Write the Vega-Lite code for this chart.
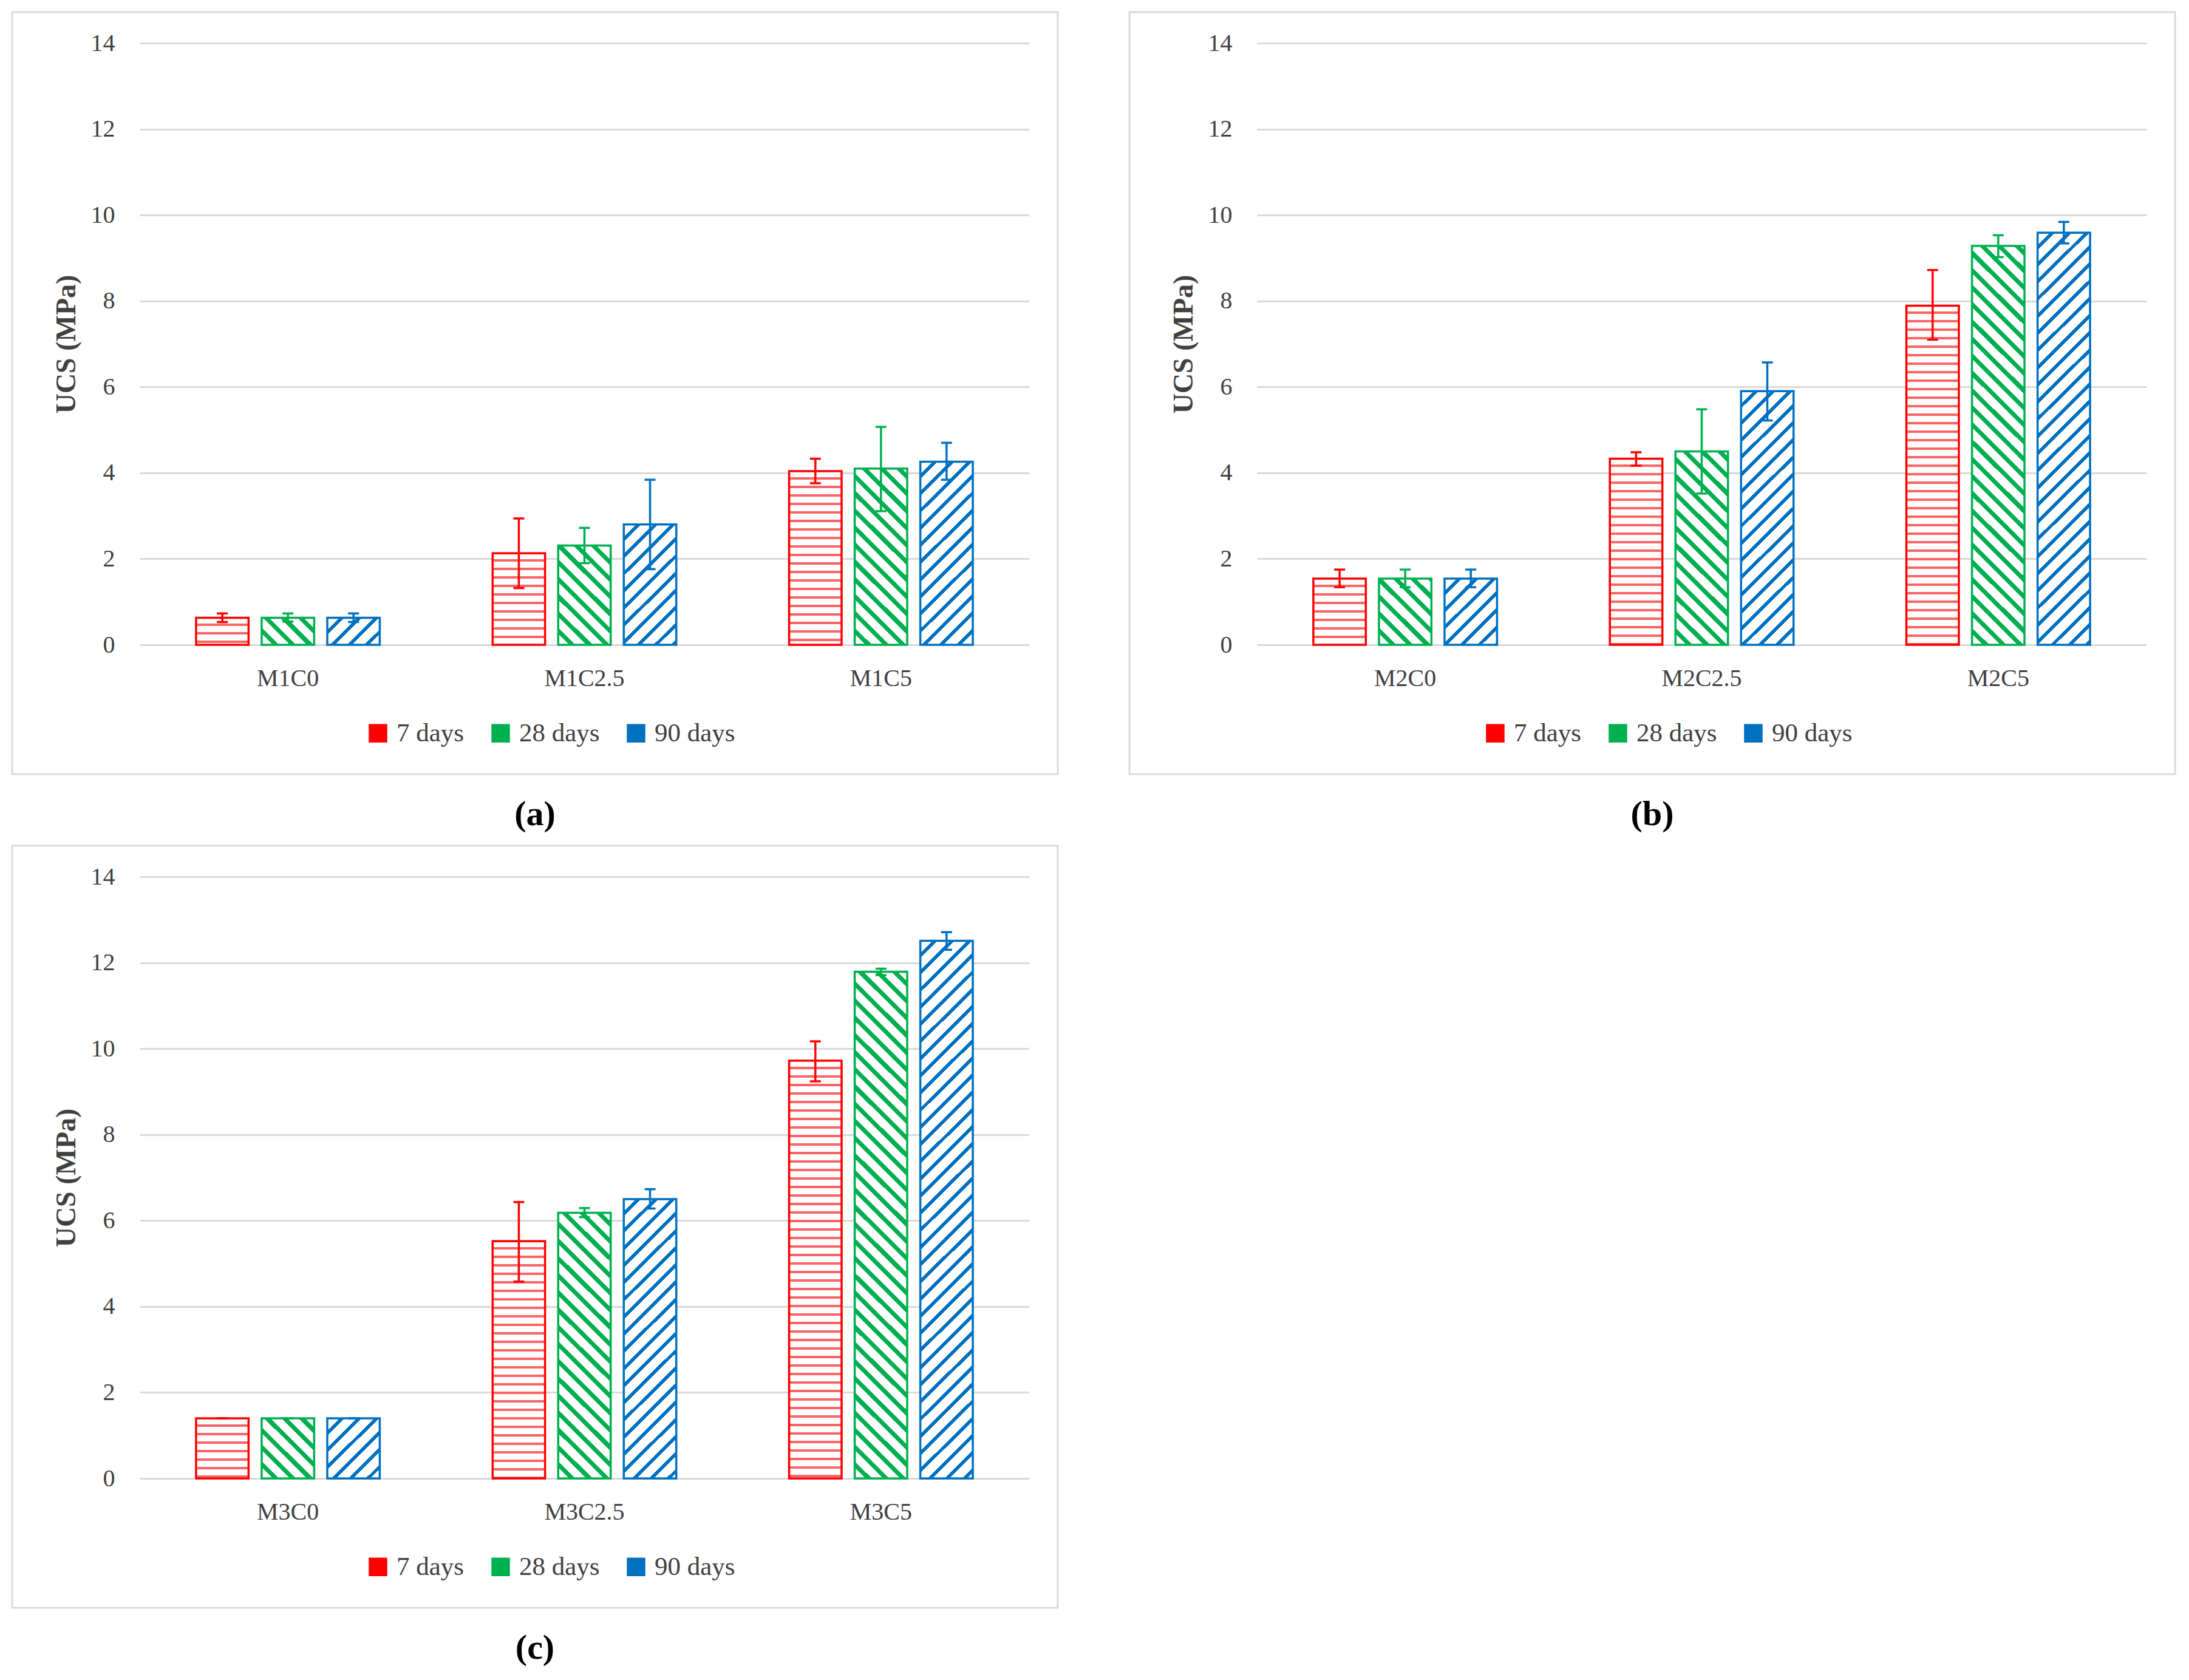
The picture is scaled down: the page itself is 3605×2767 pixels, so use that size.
{
  "$schema": "https://vega.github.io/schema/vega-lite/v6.json",
  "background": "white",
  "padding": {"left": 18, "top": 18, "right": 5, "bottom": 5},
  "params": [
    {"name": "redStops", "value": [
      {"offset":0,"color":"#fff"},{"offset":0.014,"color":"#fff"},{"offset":0.014,"color":"#ff6464"},{"offset":0.02,"color":"#ff6464"},
      {"offset":0.02,"color":"#fff"},{"offset":0.034,"color":"#fff"},{"offset":0.034,"color":"#ff6464"},{"offset":0.04,"color":"#ff6464"},
      {"offset":0.04,"color":"#fff"},{"offset":0.054,"color":"#fff"},{"offset":0.054,"color":"#ff6464"},{"offset":0.06,"color":"#ff6464"},
      {"offset":0.06,"color":"#fff"},{"offset":0.074,"color":"#fff"},{"offset":0.074,"color":"#ff6464"},{"offset":0.08,"color":"#ff6464"},
      {"offset":0.08,"color":"#fff"},{"offset":0.094,"color":"#fff"},{"offset":0.094,"color":"#ff6464"},{"offset":0.1,"color":"#ff6464"},
      {"offset":0.1,"color":"#fff"},{"offset":0.114,"color":"#fff"},{"offset":0.114,"color":"#ff6464"},{"offset":0.12,"color":"#ff6464"},
      {"offset":0.12,"color":"#fff"},{"offset":0.134,"color":"#fff"},{"offset":0.134,"color":"#ff6464"},{"offset":0.14,"color":"#ff6464"},
      {"offset":0.14,"color":"#fff"},{"offset":0.154,"color":"#fff"},{"offset":0.154,"color":"#ff6464"},{"offset":0.16,"color":"#ff6464"},
      {"offset":0.16,"color":"#fff"},{"offset":0.174,"color":"#fff"},{"offset":0.174,"color":"#ff6464"},{"offset":0.18,"color":"#ff6464"},
      {"offset":0.18,"color":"#fff"},{"offset":0.194,"color":"#fff"},{"offset":0.194,"color":"#ff6464"},{"offset":0.2,"color":"#ff6464"},
      {"offset":0.2,"color":"#fff"},{"offset":0.214,"color":"#fff"},{"offset":0.214,"color":"#ff6464"},{"offset":0.22,"color":"#ff6464"},
      {"offset":0.22,"color":"#fff"},{"offset":0.234,"color":"#fff"},{"offset":0.234,"color":"#ff6464"},{"offset":0.24,"color":"#ff6464"},
      {"offset":0.24,"color":"#fff"},{"offset":0.254,"color":"#fff"},{"offset":0.254,"color":"#ff6464"},{"offset":0.26,"color":"#ff6464"},
      {"offset":0.26,"color":"#fff"},{"offset":0.274,"color":"#fff"},{"offset":0.274,"color":"#ff6464"},{"offset":0.28,"color":"#ff6464"},
      {"offset":0.28,"color":"#fff"},{"offset":0.294,"color":"#fff"},{"offset":0.294,"color":"#ff6464"},{"offset":0.3,"color":"#ff6464"},
      {"offset":0.3,"color":"#fff"},{"offset":0.314,"color":"#fff"},{"offset":0.314,"color":"#ff6464"},{"offset":0.32,"color":"#ff6464"},
      {"offset":0.32,"color":"#fff"},{"offset":0.334,"color":"#fff"},{"offset":0.334,"color":"#ff6464"},{"offset":0.34,"color":"#ff6464"},
      {"offset":0.34,"color":"#fff"},{"offset":0.354,"color":"#fff"},{"offset":0.354,"color":"#ff6464"},{"offset":0.36,"color":"#ff6464"},
      {"offset":0.36,"color":"#fff"},{"offset":0.374,"color":"#fff"},{"offset":0.374,"color":"#ff6464"},{"offset":0.38,"color":"#ff6464"},
      {"offset":0.38,"color":"#fff"},{"offset":0.394,"color":"#fff"},{"offset":0.394,"color":"#ff6464"},{"offset":0.4,"color":"#ff6464"},
      {"offset":0.4,"color":"#fff"},{"offset":0.414,"color":"#fff"},{"offset":0.414,"color":"#ff6464"},{"offset":0.42,"color":"#ff6464"},
      {"offset":0.42,"color":"#fff"},{"offset":0.434,"color":"#fff"},{"offset":0.434,"color":"#ff6464"},{"offset":0.44,"color":"#ff6464"},
      {"offset":0.44,"color":"#fff"},{"offset":0.454,"color":"#fff"},{"offset":0.454,"color":"#ff6464"},{"offset":0.46,"color":"#ff6464"},
      {"offset":0.46,"color":"#fff"},{"offset":0.474,"color":"#fff"},{"offset":0.474,"color":"#ff6464"},{"offset":0.48,"color":"#ff6464"},
      {"offset":0.48,"color":"#fff"},{"offset":0.494,"color":"#fff"},{"offset":0.494,"color":"#ff6464"},{"offset":0.5,"color":"#ff6464"},
      {"offset":0.5,"color":"#fff"},{"offset":0.514,"color":"#fff"},{"offset":0.514,"color":"#ff6464"},{"offset":0.52,"color":"#ff6464"},
      {"offset":0.52,"color":"#fff"},{"offset":0.534,"color":"#fff"},{"offset":0.534,"color":"#ff6464"},{"offset":0.54,"color":"#ff6464"},
      {"offset":0.54,"color":"#fff"},{"offset":0.554,"color":"#fff"},{"offset":0.554,"color":"#ff6464"},{"offset":0.56,"color":"#ff6464"},
      {"offset":0.56,"color":"#fff"},{"offset":0.574,"color":"#fff"},{"offset":0.574,"color":"#ff6464"},{"offset":0.58,"color":"#ff6464"},
      {"offset":0.58,"color":"#fff"},{"offset":0.594,"color":"#fff"},{"offset":0.594,"color":"#ff6464"},{"offset":0.6,"color":"#ff6464"},
      {"offset":0.6,"color":"#fff"},{"offset":0.614,"color":"#fff"},{"offset":0.614,"color":"#ff6464"},{"offset":0.62,"color":"#ff6464"},
      {"offset":0.62,"color":"#fff"},{"offset":0.634,"color":"#fff"},{"offset":0.634,"color":"#ff6464"},{"offset":0.64,"color":"#ff6464"},
      {"offset":0.64,"color":"#fff"},{"offset":0.654,"color":"#fff"},{"offset":0.654,"color":"#ff6464"},{"offset":0.66,"color":"#ff6464"},
      {"offset":0.66,"color":"#fff"},{"offset":0.674,"color":"#fff"},{"offset":0.674,"color":"#ff6464"},{"offset":0.68,"color":"#ff6464"},
      {"offset":0.68,"color":"#fff"},{"offset":0.694,"color":"#fff"},{"offset":0.694,"color":"#ff6464"},{"offset":0.7,"color":"#ff6464"},
      {"offset":0.7,"color":"#fff"},{"offset":0.714,"color":"#fff"},{"offset":0.714,"color":"#ff6464"},{"offset":0.72,"color":"#ff6464"},
      {"offset":0.72,"color":"#fff"},{"offset":0.734,"color":"#fff"},{"offset":0.734,"color":"#ff6464"},{"offset":0.74,"color":"#ff6464"},
      {"offset":0.74,"color":"#fff"},{"offset":0.754,"color":"#fff"},{"offset":0.754,"color":"#ff6464"},{"offset":0.76,"color":"#ff6464"},
      {"offset":0.76,"color":"#fff"},{"offset":0.774,"color":"#fff"},{"offset":0.774,"color":"#ff6464"},{"offset":0.78,"color":"#ff6464"},
      {"offset":0.78,"color":"#fff"},{"offset":0.794,"color":"#fff"},{"offset":0.794,"color":"#ff6464"},{"offset":0.8,"color":"#ff6464"},
      {"offset":0.8,"color":"#fff"},{"offset":0.814,"color":"#fff"},{"offset":0.814,"color":"#ff6464"},{"offset":0.82,"color":"#ff6464"},
      {"offset":0.82,"color":"#fff"},{"offset":0.834,"color":"#fff"},{"offset":0.834,"color":"#ff6464"},{"offset":0.84,"color":"#ff6464"},
      {"offset":0.84,"color":"#fff"},{"offset":0.854,"color":"#fff"},{"offset":0.854,"color":"#ff6464"},{"offset":0.86,"color":"#ff6464"},
      {"offset":0.86,"color":"#fff"},{"offset":0.874,"color":"#fff"},{"offset":0.874,"color":"#ff6464"},{"offset":0.88,"color":"#ff6464"},
      {"offset":0.88,"color":"#fff"},{"offset":0.894,"color":"#fff"},{"offset":0.894,"color":"#ff6464"},{"offset":0.9,"color":"#ff6464"},
      {"offset":0.9,"color":"#fff"},{"offset":0.914,"color":"#fff"},{"offset":0.914,"color":"#ff6464"},{"offset":0.92,"color":"#ff6464"},
      {"offset":0.92,"color":"#fff"},{"offset":0.934,"color":"#fff"},{"offset":0.934,"color":"#ff6464"},{"offset":0.94,"color":"#ff6464"},
      {"offset":0.94,"color":"#fff"},{"offset":0.954,"color":"#fff"},{"offset":0.954,"color":"#ff6464"},{"offset":0.96,"color":"#ff6464"},
      {"offset":0.96,"color":"#fff"},{"offset":0.974,"color":"#fff"},{"offset":0.974,"color":"#ff6464"},{"offset":0.98,"color":"#ff6464"},
      {"offset":0.98,"color":"#fff"},{"offset":0.994,"color":"#fff"},{"offset":0.994,"color":"#ff6464"},{"offset":1,"color":"#ff6464"}
    ]},
    {"name": "greenStops", "value": [
      {"offset":0,"color":"#fff"},{"offset":0.016,"color":"#fff"},{"offset":0.016,"color":"#00b050"},{"offset":0.025,"color":"#00b050"},
      {"offset":0.025,"color":"#fff"},{"offset":0.041,"color":"#fff"},{"offset":0.041,"color":"#00b050"},{"offset":0.05,"color":"#00b050"},
      {"offset":0.05,"color":"#fff"},{"offset":0.066,"color":"#fff"},{"offset":0.066,"color":"#00b050"},{"offset":0.075,"color":"#00b050"},
      {"offset":0.075,"color":"#fff"},{"offset":0.091,"color":"#fff"},{"offset":0.091,"color":"#00b050"},{"offset":0.1,"color":"#00b050"},
      {"offset":0.1,"color":"#fff"},{"offset":0.116,"color":"#fff"},{"offset":0.116,"color":"#00b050"},{"offset":0.125,"color":"#00b050"},
      {"offset":0.125,"color":"#fff"},{"offset":0.141,"color":"#fff"},{"offset":0.141,"color":"#00b050"},{"offset":0.15,"color":"#00b050"},
      {"offset":0.15,"color":"#fff"},{"offset":0.166,"color":"#fff"},{"offset":0.166,"color":"#00b050"},{"offset":0.175,"color":"#00b050"},
      {"offset":0.175,"color":"#fff"},{"offset":0.191,"color":"#fff"},{"offset":0.191,"color":"#00b050"},{"offset":0.2,"color":"#00b050"},
      {"offset":0.2,"color":"#fff"},{"offset":0.216,"color":"#fff"},{"offset":0.216,"color":"#00b050"},{"offset":0.225,"color":"#00b050"},
      {"offset":0.225,"color":"#fff"},{"offset":0.241,"color":"#fff"},{"offset":0.241,"color":"#00b050"},{"offset":0.25,"color":"#00b050"},
      {"offset":0.25,"color":"#fff"},{"offset":0.266,"color":"#fff"},{"offset":0.266,"color":"#00b050"},{"offset":0.275,"color":"#00b050"},
      {"offset":0.275,"color":"#fff"},{"offset":0.291,"color":"#fff"},{"offset":0.291,"color":"#00b050"},{"offset":0.3,"color":"#00b050"},
      {"offset":0.3,"color":"#fff"},{"offset":0.316,"color":"#fff"},{"offset":0.316,"color":"#00b050"},{"offset":0.325,"color":"#00b050"},
      {"offset":0.325,"color":"#fff"},{"offset":0.341,"color":"#fff"},{"offset":0.341,"color":"#00b050"},{"offset":0.35,"color":"#00b050"},
      {"offset":0.35,"color":"#fff"},{"offset":0.366,"color":"#fff"},{"offset":0.366,"color":"#00b050"},{"offset":0.375,"color":"#00b050"},
      {"offset":0.375,"color":"#fff"},{"offset":0.391,"color":"#fff"},{"offset":0.391,"color":"#00b050"},{"offset":0.4,"color":"#00b050"},
      {"offset":0.4,"color":"#fff"},{"offset":0.416,"color":"#fff"},{"offset":0.416,"color":"#00b050"},{"offset":0.425,"color":"#00b050"},
      {"offset":0.425,"color":"#fff"},{"offset":0.441,"color":"#fff"},{"offset":0.441,"color":"#00b050"},{"offset":0.45,"color":"#00b050"},
      {"offset":0.45,"color":"#fff"},{"offset":0.466,"color":"#fff"},{"offset":0.466,"color":"#00b050"},{"offset":0.475,"color":"#00b050"},
      {"offset":0.475,"color":"#fff"},{"offset":0.491,"color":"#fff"},{"offset":0.491,"color":"#00b050"},{"offset":0.5,"color":"#00b050"},
      {"offset":0.5,"color":"#fff"},{"offset":0.516,"color":"#fff"},{"offset":0.516,"color":"#00b050"},{"offset":0.525,"color":"#00b050"},
      {"offset":0.525,"color":"#fff"},{"offset":0.541,"color":"#fff"},{"offset":0.541,"color":"#00b050"},{"offset":0.55,"color":"#00b050"},
      {"offset":0.55,"color":"#fff"},{"offset":0.566,"color":"#fff"},{"offset":0.566,"color":"#00b050"},{"offset":0.575,"color":"#00b050"},
      {"offset":0.575,"color":"#fff"},{"offset":0.591,"color":"#fff"},{"offset":0.591,"color":"#00b050"},{"offset":0.6,"color":"#00b050"},
      {"offset":0.6,"color":"#fff"},{"offset":0.616,"color":"#fff"},{"offset":0.616,"color":"#00b050"},{"offset":0.625,"color":"#00b050"},
      {"offset":0.625,"color":"#fff"},{"offset":0.641,"color":"#fff"},{"offset":0.641,"color":"#00b050"},{"offset":0.65,"color":"#00b050"},
      {"offset":0.65,"color":"#fff"},{"offset":0.666,"color":"#fff"},{"offset":0.666,"color":"#00b050"},{"offset":0.675,"color":"#00b050"},
      {"offset":0.675,"color":"#fff"},{"offset":0.691,"color":"#fff"},{"offset":0.691,"color":"#00b050"},{"offset":0.7,"color":"#00b050"},
      {"offset":0.7,"color":"#fff"},{"offset":0.716,"color":"#fff"},{"offset":0.716,"color":"#00b050"},{"offset":0.725,"color":"#00b050"},
      {"offset":0.725,"color":"#fff"},{"offset":0.741,"color":"#fff"},{"offset":0.741,"color":"#00b050"},{"offset":0.75,"color":"#00b050"},
      {"offset":0.75,"color":"#fff"},{"offset":0.766,"color":"#fff"},{"offset":0.766,"color":"#00b050"},{"offset":0.775,"color":"#00b050"},
      {"offset":0.775,"color":"#fff"},{"offset":0.791,"color":"#fff"},{"offset":0.791,"color":"#00b050"},{"offset":0.8,"color":"#00b050"},
      {"offset":0.8,"color":"#fff"},{"offset":0.816,"color":"#fff"},{"offset":0.816,"color":"#00b050"},{"offset":0.825,"color":"#00b050"},
      {"offset":0.825,"color":"#fff"},{"offset":0.841,"color":"#fff"},{"offset":0.841,"color":"#00b050"},{"offset":0.85,"color":"#00b050"},
      {"offset":0.85,"color":"#fff"},{"offset":0.866,"color":"#fff"},{"offset":0.866,"color":"#00b050"},{"offset":0.875,"color":"#00b050"},
      {"offset":0.875,"color":"#fff"},{"offset":0.891,"color":"#fff"},{"offset":0.891,"color":"#00b050"},{"offset":0.9,"color":"#00b050"},
      {"offset":0.9,"color":"#fff"},{"offset":0.916,"color":"#fff"},{"offset":0.916,"color":"#00b050"},{"offset":0.925,"color":"#00b050"},
      {"offset":0.925,"color":"#fff"},{"offset":0.941,"color":"#fff"},{"offset":0.941,"color":"#00b050"},{"offset":0.95,"color":"#00b050"},
      {"offset":0.95,"color":"#fff"},{"offset":0.966,"color":"#fff"},{"offset":0.966,"color":"#00b050"},{"offset":0.975,"color":"#00b050"},
      {"offset":0.975,"color":"#fff"},{"offset":0.991,"color":"#fff"},{"offset":0.991,"color":"#00b050"},{"offset":1,"color":"#00b050"}
    ]},
    {"name": "blueStops", "value": [
      {"offset":0,"color":"#fff"},{"offset":0.018,"color":"#fff"},{"offset":0.018,"color":"#0070c0"},{"offset":0.025,"color":"#0070c0"},
      {"offset":0.025,"color":"#fff"},{"offset":0.043,"color":"#fff"},{"offset":0.043,"color":"#0070c0"},{"offset":0.05,"color":"#0070c0"},
      {"offset":0.05,"color":"#fff"},{"offset":0.068,"color":"#fff"},{"offset":0.068,"color":"#0070c0"},{"offset":0.075,"color":"#0070c0"},
      {"offset":0.075,"color":"#fff"},{"offset":0.093,"color":"#fff"},{"offset":0.093,"color":"#0070c0"},{"offset":0.1,"color":"#0070c0"},
      {"offset":0.1,"color":"#fff"},{"offset":0.118,"color":"#fff"},{"offset":0.118,"color":"#0070c0"},{"offset":0.125,"color":"#0070c0"},
      {"offset":0.125,"color":"#fff"},{"offset":0.143,"color":"#fff"},{"offset":0.143,"color":"#0070c0"},{"offset":0.15,"color":"#0070c0"},
      {"offset":0.15,"color":"#fff"},{"offset":0.168,"color":"#fff"},{"offset":0.168,"color":"#0070c0"},{"offset":0.175,"color":"#0070c0"},
      {"offset":0.175,"color":"#fff"},{"offset":0.193,"color":"#fff"},{"offset":0.193,"color":"#0070c0"},{"offset":0.2,"color":"#0070c0"},
      {"offset":0.2,"color":"#fff"},{"offset":0.218,"color":"#fff"},{"offset":0.218,"color":"#0070c0"},{"offset":0.225,"color":"#0070c0"},
      {"offset":0.225,"color":"#fff"},{"offset":0.243,"color":"#fff"},{"offset":0.243,"color":"#0070c0"},{"offset":0.25,"color":"#0070c0"},
      {"offset":0.25,"color":"#fff"},{"offset":0.268,"color":"#fff"},{"offset":0.268,"color":"#0070c0"},{"offset":0.275,"color":"#0070c0"},
      {"offset":0.275,"color":"#fff"},{"offset":0.293,"color":"#fff"},{"offset":0.293,"color":"#0070c0"},{"offset":0.3,"color":"#0070c0"},
      {"offset":0.3,"color":"#fff"},{"offset":0.318,"color":"#fff"},{"offset":0.318,"color":"#0070c0"},{"offset":0.325,"color":"#0070c0"},
      {"offset":0.325,"color":"#fff"},{"offset":0.343,"color":"#fff"},{"offset":0.343,"color":"#0070c0"},{"offset":0.35,"color":"#0070c0"},
      {"offset":0.35,"color":"#fff"},{"offset":0.368,"color":"#fff"},{"offset":0.368,"color":"#0070c0"},{"offset":0.375,"color":"#0070c0"},
      {"offset":0.375,"color":"#fff"},{"offset":0.393,"color":"#fff"},{"offset":0.393,"color":"#0070c0"},{"offset":0.4,"color":"#0070c0"},
      {"offset":0.4,"color":"#fff"},{"offset":0.418,"color":"#fff"},{"offset":0.418,"color":"#0070c0"},{"offset":0.425,"color":"#0070c0"},
      {"offset":0.425,"color":"#fff"},{"offset":0.443,"color":"#fff"},{"offset":0.443,"color":"#0070c0"},{"offset":0.45,"color":"#0070c0"},
      {"offset":0.45,"color":"#fff"},{"offset":0.468,"color":"#fff"},{"offset":0.468,"color":"#0070c0"},{"offset":0.475,"color":"#0070c0"},
      {"offset":0.475,"color":"#fff"},{"offset":0.493,"color":"#fff"},{"offset":0.493,"color":"#0070c0"},{"offset":0.5,"color":"#0070c0"},
      {"offset":0.5,"color":"#fff"},{"offset":0.518,"color":"#fff"},{"offset":0.518,"color":"#0070c0"},{"offset":0.525,"color":"#0070c0"},
      {"offset":0.525,"color":"#fff"},{"offset":0.543,"color":"#fff"},{"offset":0.543,"color":"#0070c0"},{"offset":0.55,"color":"#0070c0"},
      {"offset":0.55,"color":"#fff"},{"offset":0.568,"color":"#fff"},{"offset":0.568,"color":"#0070c0"},{"offset":0.575,"color":"#0070c0"},
      {"offset":0.575,"color":"#fff"},{"offset":0.593,"color":"#fff"},{"offset":0.593,"color":"#0070c0"},{"offset":0.6,"color":"#0070c0"},
      {"offset":0.6,"color":"#fff"},{"offset":0.618,"color":"#fff"},{"offset":0.618,"color":"#0070c0"},{"offset":0.625,"color":"#0070c0"},
      {"offset":0.625,"color":"#fff"},{"offset":0.643,"color":"#fff"},{"offset":0.643,"color":"#0070c0"},{"offset":0.65,"color":"#0070c0"},
      {"offset":0.65,"color":"#fff"},{"offset":0.668,"color":"#fff"},{"offset":0.668,"color":"#0070c0"},{"offset":0.675,"color":"#0070c0"},
      {"offset":0.675,"color":"#fff"},{"offset":0.693,"color":"#fff"},{"offset":0.693,"color":"#0070c0"},{"offset":0.7,"color":"#0070c0"},
      {"offset":0.7,"color":"#fff"},{"offset":0.718,"color":"#fff"},{"offset":0.718,"color":"#0070c0"},{"offset":0.725,"color":"#0070c0"},
      {"offset":0.725,"color":"#fff"},{"offset":0.743,"color":"#fff"},{"offset":0.743,"color":"#0070c0"},{"offset":0.75,"color":"#0070c0"},
      {"offset":0.75,"color":"#fff"},{"offset":0.768,"color":"#fff"},{"offset":0.768,"color":"#0070c0"},{"offset":0.775,"color":"#0070c0"},
      {"offset":0.775,"color":"#fff"},{"offset":0.793,"color":"#fff"},{"offset":0.793,"color":"#0070c0"},{"offset":0.8,"color":"#0070c0"},
      {"offset":0.8,"color":"#fff"},{"offset":0.818,"color":"#fff"},{"offset":0.818,"color":"#0070c0"},{"offset":0.825,"color":"#0070c0"},
      {"offset":0.825,"color":"#fff"},{"offset":0.843,"color":"#fff"},{"offset":0.843,"color":"#0070c0"},{"offset":0.85,"color":"#0070c0"},
      {"offset":0.85,"color":"#fff"},{"offset":0.868,"color":"#fff"},{"offset":0.868,"color":"#0070c0"},{"offset":0.875,"color":"#0070c0"},
      {"offset":0.875,"color":"#fff"},{"offset":0.893,"color":"#fff"},{"offset":0.893,"color":"#0070c0"},{"offset":0.9,"color":"#0070c0"},
      {"offset":0.9,"color":"#fff"},{"offset":0.918,"color":"#fff"},{"offset":0.918,"color":"#0070c0"},{"offset":0.925,"color":"#0070c0"},
      {"offset":0.925,"color":"#fff"},{"offset":0.943,"color":"#fff"},{"offset":0.943,"color":"#0070c0"},{"offset":0.95,"color":"#0070c0"},
      {"offset":0.95,"color":"#fff"},{"offset":0.968,"color":"#fff"},{"offset":0.968,"color":"#0070c0"},{"offset":0.975,"color":"#0070c0"},
      {"offset":0.975,"color":"#fff"},{"offset":0.993,"color":"#fff"},{"offset":0.993,"color":"#0070c0"},{"offset":1,"color":"#0070c0"}
    ]}
  ],
  "data": {"values": [
    {"panel":"a","mix":"M1C0","age":"7 days","ucs":0.63,"lo":0.53,"hi":0.73},
    {"panel":"a","mix":"M1C0","age":"28 days","ucs":0.63,"lo":0.54,"hi":0.73},
    {"panel":"a","mix":"M1C0","age":"90 days","ucs":0.63,"lo":0.53,"hi":0.73},
    {"panel":"a","mix":"M1C2.5","age":"7 days","ucs":2.13,"lo":1.32,"hi":2.94},
    {"panel":"a","mix":"M1C2.5","age":"28 days","ucs":2.31,"lo":1.9,"hi":2.72},
    {"panel":"a","mix":"M1C2.5","age":"90 days","ucs":2.8,"lo":1.76,"hi":3.84},
    {"panel":"a","mix":"M1C5","age":"7 days","ucs":4.04,"lo":3.76,"hi":4.33},
    {"panel":"a","mix":"M1C5","age":"28 days","ucs":4.1,"lo":3.11,"hi":5.07},
    {"panel":"a","mix":"M1C5","age":"90 days","ucs":4.26,"lo":3.84,"hi":4.7},
    {"panel":"b","mix":"M2C0","age":"7 days","ucs":1.54,"lo":1.34,"hi":1.75},
    {"panel":"b","mix":"M2C0","age":"28 days","ucs":1.54,"lo":1.34,"hi":1.75},
    {"panel":"b","mix":"M2C0","age":"90 days","ucs":1.54,"lo":1.34,"hi":1.75},
    {"panel":"b","mix":"M2C2.5","age":"7 days","ucs":4.33,"lo":4.17,"hi":4.48},
    {"panel":"b","mix":"M2C2.5","age":"28 days","ucs":4.5,"lo":3.52,"hi":5.48},
    {"panel":"b","mix":"M2C2.5","age":"90 days","ucs":5.9,"lo":5.22,"hi":6.57},
    {"panel":"b","mix":"M2C5","age":"7 days","ucs":7.89,"lo":7.1,"hi":8.72},
    {"panel":"b","mix":"M2C5","age":"28 days","ucs":9.28,"lo":9.02,"hi":9.53},
    {"panel":"b","mix":"M2C5","age":"90 days","ucs":9.59,"lo":9.34,"hi":9.84},
    {"panel":"c","mix":"M3C0","age":"7 days","ucs":1.4,"lo":1.4,"hi":1.4},
    {"panel":"c","mix":"M3C0","age":"28 days","ucs":1.4,"lo":1.4,"hi":1.4},
    {"panel":"c","mix":"M3C0","age":"90 days","ucs":1.4,"lo":1.4,"hi":1.4},
    {"panel":"c","mix":"M3C2.5","age":"7 days","ucs":5.52,"lo":4.58,"hi":6.43},
    {"panel":"c","mix":"M3C2.5","age":"28 days","ucs":6.18,"lo":6.08,"hi":6.29},
    {"panel":"c","mix":"M3C2.5","age":"90 days","ucs":6.5,"lo":6.28,"hi":6.73},
    {"panel":"c","mix":"M3C5","age":"7 days","ucs":9.72,"lo":9.24,"hi":10.17},
    {"panel":"c","mix":"M3C5","age":"28 days","ucs":11.79,"lo":11.71,"hi":11.86},
    {"panel":"c","mix":"M3C5","age":"90 days","ucs":12.51,"lo":12.3,"hi":12.71}
  ]},
  "columns": 2,
  "spacing": 118,
  "bounds": "flush",
  "resolve": {
    "scale": {"x": "independent", "y": "independent", "xOffset": "independent", "stroke": "independent", "color": "independent"},
    "legend": {"stroke": "independent"}
  },
  "concat": [
    {
      "width": 1722, "height": 1255,
      "title": {"text": "(a)", "orient": "bottom", "offset": 38},
      "transform": [{"filter": "datum.panel == 'a'"}],
      "encoding": {
        "x": {"field": "mix", "type": "nominal", "sort": null, "title": null,
          "scale": {"range": [210, 1675], "paddingInner": 0, "paddingOuter": 0},
          "axis": {"offset": -213, "labelPadding": 35, "labelAngle": 0, "grid": false}},
        "xOffset": {"field": "age", "type": "nominal", "sort": ["7 days", "28 days", "90 days"],
          "scale": {"paddingInner": 0.2, "paddingOuter": 0.86}}
      },
      "layer": [
        {
          "mark": {"type": "bar", "strokeWidth": 3.5, "fill": {"expr": "datum.age=='7 days'?{gradient:'linear',x1:0,y1:0,x2:0,y2:9.887/datum.ucs,stops:redStops}:datum.age=='28 days'?{gradient:'linear',x1:0,y1:1,x2:97300/(7396+5012.6*datum.ucs*datum.ucs),y2:1-80103*datum.ucs/(7396+5012.6*datum.ucs*datum.ucs),stops:greenStops}:{gradient:'linear',x1:0,y1:0,x2:97300/(7396+5012.6*datum.ucs*datum.ucs),y2:80103*datum.ucs/(7396+5012.6*datum.ucs*datum.ucs),stops:blueStops}"}},
          "encoding": {
            "y": {"field": "ucs", "type": "quantitative", "title": "UCS (MPa)",
              "scale": {"domain": [0, 14], "range": [1042, 51], "nice": false},
              "axis": {"offset": -210, "values": [0, 2, 4, 6, 8, 10, 12, 14], "format": "d", "labelPadding": 41, "titleX": -121, "titleBaseline": "middle"}},
            "stroke": {"field": "age", "type": "nominal",
              "scale": {"domain": ["7 days", "28 days", "90 days"], "range": ["#ff0000", "#00b050", "#0070c0"]},
              "legend": {"orient": "none", "legendX": 581, "legendY": 1166}}
          }
        },
        {
          "mark": {"type": "rule", "strokeWidth": 3.5},
          "encoding": {
            "y": {"field": "lo", "type": "quantitative", "title": "UCS (MPa)"},
            "y2": {"field": "hi"},
            "color": {"field": "age", "type": "nominal", "legend": null,
              "scale": {"domain": ["7 days", "28 days", "90 days"], "range": ["#ff0000", "#00b050", "#0070c0"]}}
          }
        },
        {
          "mark": {"type": "tick", "orient": "horizontal", "size": 18, "thickness": 3.5, "opacity": 1},
          "encoding": {
            "y": {"field": "hi", "type": "quantitative", "title": "UCS (MPa)"},
            "color": {"field": "age", "type": "nominal", "legend": null,
              "scale": {"domain": ["7 days", "28 days", "90 days"], "range": ["#ff0000", "#00b050", "#0070c0"]}}
          }
        },
        {
          "mark": {"type": "tick", "orient": "horizontal", "size": 18, "thickness": 3.5, "opacity": 1},
          "encoding": {
            "y": {"field": "lo", "type": "quantitative", "title": "UCS (MPa)"},
            "color": {"field": "age", "type": "nominal", "legend": null,
              "scale": {"domain": ["7 days", "28 days", "90 days"], "range": ["#ff0000", "#00b050", "#0070c0"]}}
          }
        }
      ]
    },
    {
      "width": 1722, "height": 1255,
      "title": {"text": "(b)", "orient": "bottom", "offset": 38},
      "transform": [{"filter": "datum.panel == 'b'"}],
      "encoding": {
        "x": {"field": "mix", "type": "nominal", "sort": null, "title": null,
          "scale": {"range": [210, 1675], "paddingInner": 0, "paddingOuter": 0},
          "axis": {"offset": -213, "labelPadding": 35, "labelAngle": 0, "grid": false}},
        "xOffset": {"field": "age", "type": "nominal", "sort": ["7 days", "28 days", "90 days"],
          "scale": {"paddingInner": 0.2, "paddingOuter": 0.86}}
      },
      "layer": [
        {
          "mark": {"type": "bar", "strokeWidth": 3.5, "fill": {"expr": "datum.age=='7 days'?{gradient:'linear',x1:0,y1:0,x2:0,y2:9.887/datum.ucs,stops:redStops}:datum.age=='28 days'?{gradient:'linear',x1:0,y1:1,x2:97300/(7396+5012.6*datum.ucs*datum.ucs),y2:1-80103*datum.ucs/(7396+5012.6*datum.ucs*datum.ucs),stops:greenStops}:{gradient:'linear',x1:0,y1:0,x2:97300/(7396+5012.6*datum.ucs*datum.ucs),y2:80103*datum.ucs/(7396+5012.6*datum.ucs*datum.ucs),stops:blueStops}"}},
          "encoding": {
            "y": {"field": "ucs", "type": "quantitative", "title": "UCS (MPa)",
              "scale": {"domain": [0, 14], "range": [1042, 51], "nice": false},
              "axis": {"offset": -210, "values": [0, 2, 4, 6, 8, 10, 12, 14], "format": "d", "labelPadding": 41, "titleX": -121, "titleBaseline": "middle"}},
            "stroke": {"field": "age", "type": "nominal",
              "scale": {"domain": ["7 days", "28 days", "90 days"], "range": ["#ff0000", "#00b050", "#0070c0"]},
              "legend": {"orient": "none", "legendX": 581, "legendY": 1166}}
          }
        },
        {
          "mark": {"type": "rule", "strokeWidth": 3.5},
          "encoding": {
            "y": {"field": "lo", "type": "quantitative", "title": "UCS (MPa)"},
            "y2": {"field": "hi"},
            "color": {"field": "age", "type": "nominal", "legend": null,
              "scale": {"domain": ["7 days", "28 days", "90 days"], "range": ["#ff0000", "#00b050", "#0070c0"]}}
          }
        },
        {
          "mark": {"type": "tick", "orient": "horizontal", "size": 18, "thickness": 3.5, "opacity": 1},
          "encoding": {
            "y": {"field": "hi", "type": "quantitative", "title": "UCS (MPa)"},
            "color": {"field": "age", "type": "nominal", "legend": null,
              "scale": {"domain": ["7 days", "28 days", "90 days"], "range": ["#ff0000", "#00b050", "#0070c0"]}}
          }
        },
        {
          "mark": {"type": "tick", "orient": "horizontal", "size": 18, "thickness": 3.5, "opacity": 1},
          "encoding": {
            "y": {"field": "lo", "type": "quantitative", "title": "UCS (MPa)"},
            "color": {"field": "age", "type": "nominal", "legend": null,
              "scale": {"domain": ["7 days", "28 days", "90 days"], "range": ["#ff0000", "#00b050", "#0070c0"]}}
          }
        }
      ]
    },
    {
      "width": 1722, "height": 1255,
      "title": {"text": "(c)", "orient": "bottom", "offset": 38},
      "transform": [{"filter": "datum.panel == 'c'"}],
      "encoding": {
        "x": {"field": "mix", "type": "nominal", "sort": null, "title": null,
          "scale": {"range": [210, 1675], "paddingInner": 0, "paddingOuter": 0},
          "axis": {"offset": -213, "labelPadding": 35, "labelAngle": 0, "grid": false}},
        "xOffset": {"field": "age", "type": "nominal", "sort": ["7 days", "28 days", "90 days"],
          "scale": {"paddingInner": 0.2, "paddingOuter": 0.86}}
      },
      "layer": [
        {
          "mark": {"type": "bar", "strokeWidth": 3.5, "fill": {"expr": "datum.age=='7 days'?{gradient:'linear',x1:0,y1:0,x2:0,y2:9.887/datum.ucs,stops:redStops}:datum.age=='28 days'?{gradient:'linear',x1:0,y1:1,x2:97300/(7396+5012.6*datum.ucs*datum.ucs),y2:1-80103*datum.ucs/(7396+5012.6*datum.ucs*datum.ucs),stops:greenStops}:{gradient:'linear',x1:0,y1:0,x2:97300/(7396+5012.6*datum.ucs*datum.ucs),y2:80103*datum.ucs/(7396+5012.6*datum.ucs*datum.ucs),stops:blueStops}"}},
          "encoding": {
            "y": {"field": "ucs", "type": "quantitative", "title": "UCS (MPa)",
              "scale": {"domain": [0, 14], "range": [1042, 51], "nice": false},
              "axis": {"offset": -210, "values": [0, 2, 4, 6, 8, 10, 12, 14], "format": "d", "labelPadding": 41, "titleX": -121, "titleBaseline": "middle"}},
            "stroke": {"field": "age", "type": "nominal",
              "scale": {"domain": ["7 days", "28 days", "90 days"], "range": ["#ff0000", "#00b050", "#0070c0"]},
              "legend": {"orient": "none", "legendX": 581, "legendY": 1166}}
          }
        },
        {
          "mark": {"type": "rule", "strokeWidth": 3.5},
          "encoding": {
            "y": {"field": "lo", "type": "quantitative", "title": "UCS (MPa)"},
            "y2": {"field": "hi"},
            "color": {"field": "age", "type": "nominal", "legend": null,
              "scale": {"domain": ["7 days", "28 days", "90 days"], "range": ["#ff0000", "#00b050", "#0070c0"]}}
          }
        },
        {
          "mark": {"type": "tick", "orient": "horizontal", "size": 18, "thickness": 3.5, "opacity": 1},
          "encoding": {
            "y": {"field": "hi", "type": "quantitative", "title": "UCS (MPa)"},
            "color": {"field": "age", "type": "nominal", "legend": null,
              "scale": {"domain": ["7 days", "28 days", "90 days"], "range": ["#ff0000", "#00b050", "#0070c0"]}}
          }
        },
        {
          "mark": {"type": "tick", "orient": "horizontal", "size": 18, "thickness": 3.5, "opacity": 1},
          "encoding": {
            "y": {"field": "lo", "type": "quantitative", "title": "UCS (MPa)"},
            "color": {"field": "age", "type": "nominal", "legend": null,
              "scale": {"domain": ["7 days", "28 days", "90 days"], "range": ["#ff0000", "#00b050", "#0070c0"]}}
          }
        }
      ]
    }
  ],
  "config": {
    "font": "Liberation Serif",
    "view": {"stroke": "#d9d9d9", "strokeWidth": 3, "fill": "white"},
    "axis": {
      "labelFont": "Liberation Serif", "labelFontSize": 40, "labelColor": "#404040",
      "titleFont": "Liberation Serif", "titleFontSize": 46, "titleFontWeight": "bold", "titleColor": "#404040",
      "gridColor": "#d9d9d9", "gridWidth": 3, "domain": false, "ticks": false, "tickSize": 0
    },
    "legend": {
      "direction": "horizontal", "title": null, "symbolType": "square", "symbolSize": 729,
      "symbolStrokeWidth": 3.5, "labelFont": "Liberation Serif", "labelFontSize": 43, "labelColor": "#404040",
      "labelOffset": 9, "columnPadding": 38, "gridAlign": "each"
    },
    "title": {"font": "Liberation Serif", "fontSize": 58, "fontWeight": "bold", "color": "#000000", "anchor": "middle"}
  }
}
